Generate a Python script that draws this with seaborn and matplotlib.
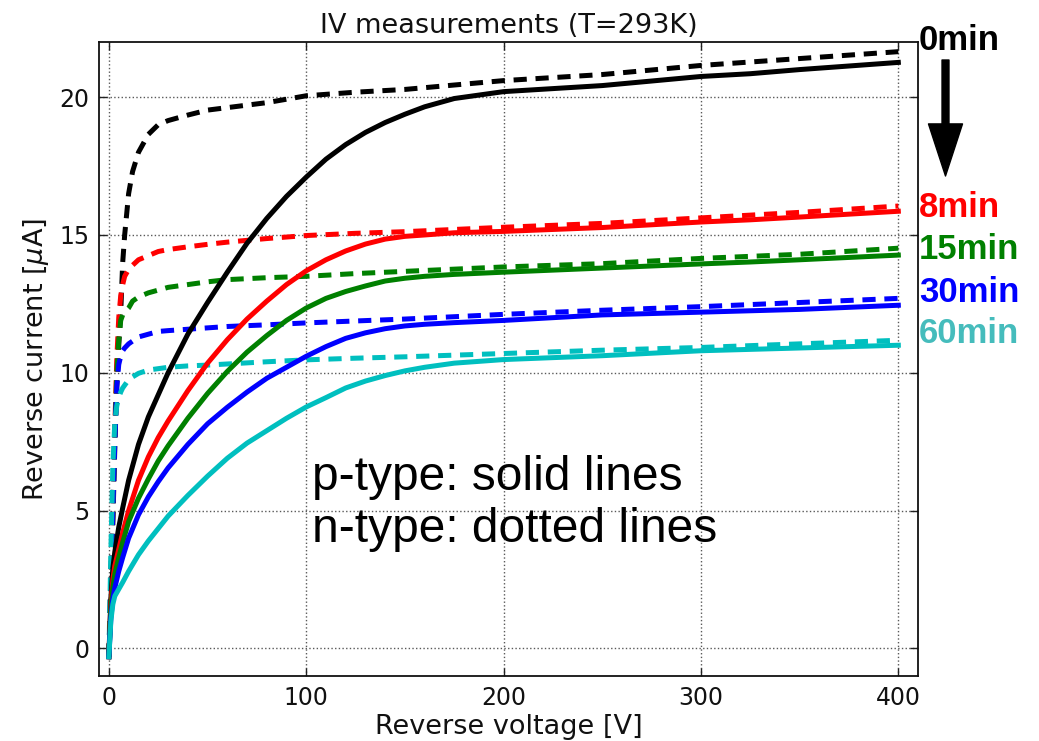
import matplotlib
matplotlib.use("Agg")
import matplotlib.pyplot as plt
import seaborn as sns
import pandas as pd

# Reverse-bias IV curves after annealing, p-type (solid) and n-type (dashed)
voltage_p = [0, 1, 2, 3, 5, 7, 10, 15, 20, 25, 30, 40, 50, 60, 70, 80, 90, 100,
             110, 120, 130, 140, 150, 160, 175, 200, 250, 300, 325, 350, 400]
p_0min = [-0.3, 1.8, 2.9, 3.5, 4.4, 5.1, 6.1, 7.4, 8.4, 9.2, 10.0, 11.4, 12.55, 13.65,
          14.7, 15.6, 16.4, 17.1, 17.75, 18.28, 18.72, 19.08, 19.38, 19.65, 19.95,
          20.2, 20.42, 20.75, 20.85, 21.0, 21.26]
p_8min = [-0.3, 1.6, 2.5, 3.0, 3.6, 4.2, 5.0, 6.1, 6.95, 7.65, 8.25, 9.35, 10.35, 11.2,
          11.95, 12.6, 13.2, 13.7, 14.1, 14.42, 14.67, 14.85, 14.95, 15.0, 15.08,
          15.13, 15.27, 15.47, 15.55, 15.65, 15.86]
p_15min = [-0.3, 1.4, 2.2, 2.7, 3.3, 3.85, 4.6, 5.45, 6.15, 6.8, 7.35, 8.35, 9.25, 10.05,
           10.75, 11.35, 11.9, 12.35, 12.7, 12.95, 13.15, 13.33, 13.43, 13.5, 13.57,
           13.65, 13.8, 13.95, 14.02, 14.1, 14.27]
p_30min = [-0.3, 1.1, 1.8, 2.2, 2.8, 3.3, 4.0, 4.85, 5.5, 6.05, 6.55, 7.4, 8.15, 8.75,
           9.3, 9.8, 10.2, 10.6, 10.95, 11.25, 11.45, 11.6, 11.7, 11.76, 11.82,
           11.9, 12.1, 12.2, 12.25, 12.3, 12.45]
p_60min = [-0.3, 1.0, 1.6, 1.9, 2.15, 2.4, 2.8, 3.4, 3.9, 4.35, 4.8, 5.55, 6.25, 6.9,
           7.45, 7.9, 8.35, 8.76, 9.1, 9.45, 9.7, 9.9, 10.07, 10.2, 10.35, 10.48,
           10.62, 10.8, 10.85, 10.9, 11.0]

voltage_n = [0, 1, 2, 3, 4, 5, 6, 7, 8, 10, 12, 15, 20, 25, 30, 40, 50, 60, 80, 100,
             125, 150, 200, 250, 300, 350, 400]
n_0min = [-0.3, 2.0, 4.5, 7.3, 9.5, 11.0, 12.2, 14.0, 15.0, 16.5, 17.3, 18.0, 18.65,
          19.0, 19.15, 19.35, 19.53, 19.62, 19.8, 20.05, 20.18, 20.28, 20.6, 20.82,
          21.15, 21.4, 21.65]
n_8min = [-0.3, 2.5, 5.0, 8.0, 10.5, 12.0, 12.8, 13.2, 13.5, 13.75, 13.9, 14.1, 14.25,
          14.4, 14.47, 14.57, 14.66, 14.74, 14.87, 14.98, 15.06, 15.12, 15.28, 15.42,
          15.62, 15.82, 16.05]
n_15min = [-0.3, 2.5, 5.0, 7.8, 10.0, 11.2, 11.9, 12.1, 12.2, 12.35, 12.6, 12.75,
           12.9, 13.0, 13.1, 13.2, 13.3, 13.38, 13.45, 13.5, 13.6, 13.68, 13.84,
           13.96, 14.15, 14.3, 14.52]
n_30min = [-0.3, 2.4, 5.0, 7.5, 9.5, 10.3, 10.6, 10.8, 10.9, 11.05, 11.15, 11.3, 11.4,
           11.5, 11.53, 11.58, 11.63, 11.68, 11.74, 11.81, 11.88, 11.95, 12.12, 12.27,
           12.4, 12.55, 12.7]
n_60min = [-0.3, 3.5, 6.6, 8.2, 8.8, 9.1, 9.3, 9.45, 9.55, 9.75, 9.85, 9.98, 10.1,
           10.15, 10.2, 10.25, 10.28, 10.32, 10.4, 10.47, 10.53, 10.58, 10.7, 10.82,
           10.92, 11.05, 11.18]

anneal_times = ["0min", "8min", "15min", "30min", "60min"]
line_colors = ["#000000", "#ff0000", "#008000", "#0000ff", "#00bfbf"]
label_colors = ["#000000", "#ff0000", "#008000", "#0000ff", "#45bcbc"]
label_levels = [21.7, 15.65, 14.12, 12.57, 11.07]

p_curves = [p_0min, p_8min, p_15min, p_30min, p_60min]
n_curves = [n_0min, n_8min, n_15min, n_30min, n_60min]

plt.rcParams["lines.scale_dashes"] = False
plt.rcParams["font.family"] = "DejaVu Sans"
plt.rcParams["mathtext.fontset"] = "dejavusans"

fig = plt.figure(figsize=(10.39, 7.41), dpi=100)
ax = fig.add_axes([0.0953, 0.0877, 0.7883, 0.8556])

lw = 3.6
for t, col, cur in zip(anneal_times, line_colors, n_curves):
    df = pd.DataFrame({"V": voltage_n, "I": cur})
    sns.lineplot(data=df, x="V", y="I", color=col, lw=lw,
                 linestyle=(0, (9.5, 6.3)), dash_capstyle="butt", ax=ax)
for t, col, cur in zip(anneal_times, line_colors, p_curves):
    df = pd.DataFrame({"V": voltage_p, "I": cur})
    sns.lineplot(data=df, x="V", y="I", color=col, lw=lw, linestyle="-", ax=ax)

ax.set_xlim(-5, 410)
ax.set_ylim(-1, 22)
ax.set_xticks([0, 100, 200, 300, 400])
ax.set_yticks([0, 5, 10, 15, 20])
ax.grid(True, color="0.35", linestyle=":", linewidth=1.0)
ax.tick_params(direction="in", length=5.5, width=1, top=True, right=True,
               labelsize=17, pad=7, colors="#222222", labelcolor="#111111")
for s in ax.spines.values():
    s.set_linewidth(1.3)
    s.set_color("#111111")

ax.set_title("IV measurements (T=293K)", fontsize=19.5, pad=6.5, color="#111111")
ax.set_xlabel("Reverse voltage [V]", fontsize=19.5, labelpad=3, color="#111111")
ax.set_ylabel(r"Reverse current [$\mu$A]", fontsize=19.5, labelpad=6, color="#111111")

ax.text(103, 5.74, "p-type: solid lines", fontsize=34.5, family="Liberation Sans",
        va="baseline", ha="left")
ax.text(103, 3.86, "n-type: dotted lines", fontsize=34.5, family="Liberation Sans",
        va="baseline", ha="left")

trans = ax.get_yaxis_transform()
for t, col, lvl in zip(anneal_times, label_colors, label_levels):
    ax.text(1.001, lvl, t, transform=trans, color=col, fontsize=25,
            fontweight="bold", family="Liberation Sans", va="baseline",
            ha="left", clip_on=False)

ax.annotate("", xy=(945.5, 741 - 176), xycoords="figure pixels",
            xytext=(945.5, 741 - 60), textcoords="figure pixels",
            arrowprops=dict(width=5, headwidth=24.5, headlength=37.5,
                            shrink=0, fc="black", ec="black"))

fig.savefig("out.png", dpi=100)
